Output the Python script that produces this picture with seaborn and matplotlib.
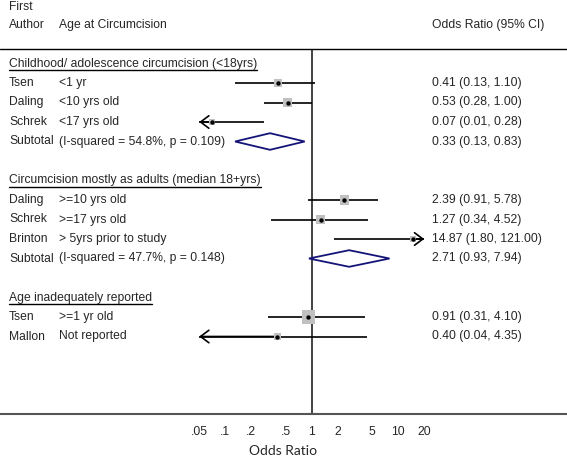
import numpy as np
import pandas as pd
import matplotlib
matplotlib.use('Agg')
import matplotlib.pyplot as plt
import matplotlib.transforms as mtransforms
from matplotlib.ticker import NullLocator
import seaborn as sns

# data
groups = ['Childhood/ adolescence circumcision (<18yrs)',
          'Circumcision mostly as adults (median 18+yrs)',
          'Age inadequately reported']
authors = ['Tsen', 'Daling', 'Schrek', 'Daling', 'Schrek', 'Brinton', 'Tsen', 'Mallon']
ages = ['<1 yr', '<10 yrs old', '<17 yrs old', '>=10 yrs old', '>=17 yrs old',
        '> 5yrs prior to study', '>=1 yr old', 'Not reported']
study_group = [0, 0, 0, 1, 1, 1, 2, 2]
or_est = [0.41, 0.53, 0.07, 2.39, 1.27, 14.87, 0.91, 0.40]
ci_lo = [0.13, 0.28, 0.01, 0.91, 0.34, 1.80, 0.31, 0.04]
ci_hi = [1.10, 1.00, 0.28, 5.78, 4.52, 121.00, 4.10, 4.35]
box_size = [7, 7.5, 5, 8, 7, 5, 11, 5.5]  # relative weight (box side)

sub_label = ['(I-squared = 54.8%, p = 0.109)', '(I-squared = 47.7%, p = 0.148)', None]
sub_or = [0.33, 2.71, None]
sub_lo = [0.13, 0.93, None]
sub_hi = [0.83, 7.94, None]

ticks = [0.05, 0.1, 0.2, 0.5, 1, 2, 5, 10, 20]
tick_labels = ['.05', '.1', '.2', '.5', '1', '2', '5', '10', '20']
clip_lo, clip_hi = 0.05, 20

sns.set_style('white')
plt.rcParams['font.family'] = ['Liberation Sans', 'DejaVu Sans']

# row layout
rows, head_rows, sub_rows = [], [], []
r = 0
for g in range(len(groups)):
    head_rows.append(r)
    r += 1
    for i, sg in enumerate(study_group):
        if sg == g:
            rows.append(r)
            r += 1
    sub_rows.append(r if sub_or[g] is not None else None)
    if sub_or[g] is not None:
        r += 1
    r += 1

df = pd.DataFrame({'author': authors, 'age': ages, 'or': or_est, 'lo': ci_lo,
                   'hi': ci_hi, 'box': box_size, 'row': rows})

W, H = 567, 457
fig = plt.figure(figsize=(W / 100, H / 100), dpi=100)
ax = fig.add_axes([0, 43.5 / H, 1, 413.5 / H])
ax.set_xscale('log')
x1_px, dec = 311.7, 86.5
ax.set_xlim(10 ** (-x1_px / dec), 10 ** ((W - x1_px) / dec))
row0_px, pitch = 63.5, 19.5
ax.set_ylim((413.5 - row0_px) / pitch, -row0_px / pitch)

trans = mtransforms.blended_transform_factory(ax.transAxes, ax.transData)
fs = 8.7
xa, xb, xc = 9 / W, 58.7 / W, 432 / W

# header
top1, top2 = (6.5 - row0_px) / pitch, (25 - row0_px) / pitch
ax.text(xa, top1, 'First', transform=trans, va='center', fontsize=fs)
ax.text(xa, top2, 'Author', transform=trans, va='center', fontsize=fs)
ax.text(xb, top2, 'Age at Circumcision', transform=trans, va='center', fontsize=fs)
ax.text(xc, top2, 'Odds Ratio (95% CI)', transform=trans, va='center', fontsize=fs)
sep = (48.5 - row0_px) / pitch
ax.axhline(sep, color='black', lw=1)
ax.vlines(1, sep, ax.get_ylim()[0], color='#222222', lw=1.2, zorder=1)

# CI lines, arrows where clipped
arrow = dict(arrowstyle='->,head_length=0.6,head_width=0.45',
             lw=1.2, color='black', shrinkA=0, shrinkB=0)
for _, s in df.iterrows():
    lo, hi = max(s['lo'], clip_lo), min(s['hi'], clip_hi)
    ax.hlines(s['row'], lo, hi, color='black', lw=1.2, zorder=2)
    if s['lo'] < clip_lo:
        ax.annotate('', xy=(clip_lo, s['row']), xytext=(s['or'], s['row']),
                    arrowprops=arrow)
    if s['hi'] > clip_hi:
        ax.annotate('', xy=(clip_hi, s['row']), xytext=(s['or'], s['row']),
                    arrowprops=arrow)
    ax.text(xa, s['row'], s['author'], transform=trans, va='center', fontsize=fs)
    ax.text(xb, s['row'], s['age'], transform=trans, va='center', fontsize=fs)
    ax.text(xc, s['row'], f"{s['or']:.2f} ({s['lo']:.2f}, {s['hi']:.2f})",
            transform=trans, va='center', fontsize=fs)

sns.scatterplot(data=df, x='or', y='row', marker='s', color='#c0c0c0',
                s=(df['box'] * 0.72 * 1.2) ** 2, linewidth=0, ax=ax, zorder=3)
sns.scatterplot(data=df, x='or', y='row', marker='o', color='black',
                s=10, linewidth=0, ax=ax, zorder=4)

# subtotals
for g in range(len(groups)):
    if sub_or[g] is None:
        continue
    y = sub_rows[g]
    hh = 8.3 / pitch
    ax.fill([sub_lo[g], sub_or[g], sub_hi[g], sub_or[g]], [y, y - hh, y, y + hh],
            facecolor='white', edgecolor='#141478', lw=1.3, zorder=3)
    ax.text(xa, y, 'Subtotal', transform=trans, va='center', fontsize=fs)
    ax.text(xb, y, sub_label[g], transform=trans, va='center', fontsize=fs)
    ax.text(xc, y, f'{sub_or[g]:.2f} ({sub_lo[g]:.2f}, {sub_hi[g]:.2f})',
            transform=trans, va='center', fontsize=fs)

heads = [ax.text(xa, hr, g, transform=trans, va='center', fontsize=fs)
         for g, hr in zip(groups, head_rows)]

for side in ['left', 'right', 'top']:
    ax.spines[side].set_visible(False)
ax.spines['bottom'].set_color('#555555')
ax.spines['bottom'].set_linewidth(1.5)
ax.set_xticks(ticks)
ax.set_xticklabels(tick_labels)
ax.xaxis.set_minor_locator(NullLocator())
ax.tick_params(axis='x', length=5, width=1, color='#555555', pad=4, labelsize=fs)
ax.set_yticks([])
ax.set_ylabel('')
ax.set_xlabel('Odds Ratio', fontsize=10, family=['Lato', 'DejaVu Sans'], labelpad=5)

# underline the group headers
fig.canvas.draw()
rend = fig.canvas.get_renderer()
for t, hr in zip(heads, head_rows):
    bb = t.get_window_extent(rend).transformed(ax.transAxes.inverted())
    ax.plot([bb.x0, bb.x1], [hr + 0.35] * 2, color='black', lw=1, transform=trans)

fig.savefig('out.png', dpi=100)
